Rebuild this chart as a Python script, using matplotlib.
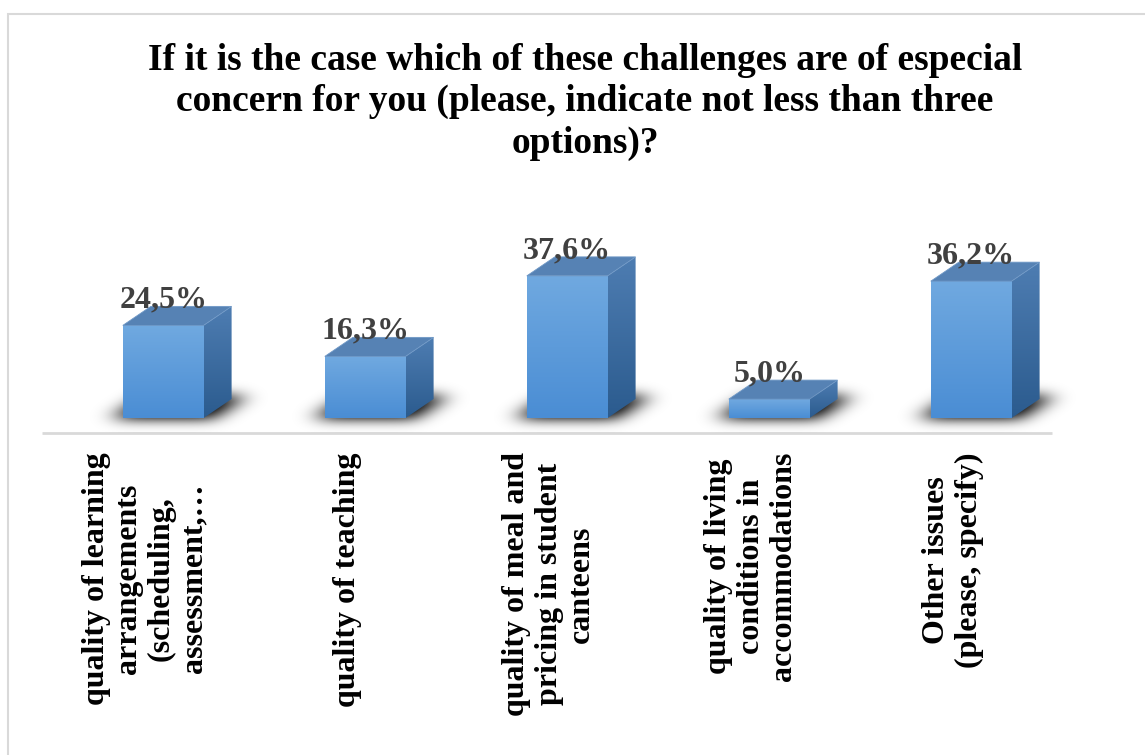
import matplotlib.pyplot as plt
import numpy as np
from matplotlib.patches import Polygon, Rectangle
from matplotlib.colors import LinearSegmentedColormap

# data
categorias = ["quality of learning\narrangements\n(scheduling,\nassessment,…",
              "quality of teaching",
              "quality of meal and\npricing in student\ncanteens",
              "quality of living\nconditions in\naccommodations",
              "Other issues\n(please, specify)"]
valores = [24.5, 16.3, 37.6, 5.0, 36.2]
etiquetas = ["24,5%", "16,3%", "37,6%", "5,0%", "36,2%"]
titulo = ("If it is the case which of these challenges are of especial\n"
          "concern for you (please, indicate not less than three\n"
          "options)?")

W, H = 1145, 755
px_x = 202.0      # pixeles por categoria
px_y = 3.78       # pixeles por %
ancho = 0.40
dx = 28 / px_x    # profundidad 3D
dy = 19 / px_y
ylim = [-5, 45]
xlim = [-0.6, 4.6]

plt.rcParams['font.family'] = ['Liberation Serif', 'DejaVu Serif']
plt.rcParams['font.weight'] = 'bold'

fig = plt.figure(figsize=(W / 100, H / 100), dpi=100)
left = 42 / W
ancho_ax = (xlim[1] - xlim[0]) * px_x / W
alto_ax = (ylim[1] - ylim[0]) * px_y / H
abajo = (H - 418 - (0 - ylim[0]) * px_y) / H
ax = fig.add_axes([left, abajo, ancho_ax, alto_ax])
ax.axis('off')


def degradado(patch, c_arriba, c_abajo, ext, z):
    cmap = LinearSegmentedColormap.from_list('g', [c_abajo, c_arriba])
    g = np.linspace(0, 1, 256).reshape(-1, 1)
    im = ax.imshow(g, cmap=cmap, extent=ext, origin='lower', aspect='auto',
                   zorder=z, interpolation='bilinear')
    im.set_clip_path(patch)


def suavizar(a, sigma, eje):
    n = int(3 * sigma)
    k = np.exp(-0.5 * (np.arange(-n, n + 1) / sigma) ** 2)
    k /= k.sum()
    return np.apply_along_axis(lambda r: np.convolve(r, k, mode='same'), eje, a)


x = np.arange(len(valores))
barras = ax.bar(x, valores, ancho, color='none', edgecolor='none', zorder=3)

# sombra difusa bajo las barras (malla de ~1 px)
nx = int((xlim[1] - xlim[0]) * px_x)
ny = int(24 * px_y)
gx = np.linspace(xlim[0], xlim[1], nx)
gy = np.linspace(-4, 20, ny)
GX, GY = np.meshgrid(gx, gy)
mascara = np.zeros_like(GX)
for b in barras:
    x0 = b.get_x()
    x1 = x0 + ancho
    t = np.clip(GY / dy, 0, 1.3)
    dentro = ((GY > -0.3) & (GY < dy + 0.8) &
              (GX > x0 - 0.05 + t * dx) & (GX < x1 + 0.05 + t * dx))
    mascara[dentro] = 1.0
mascara = suavizar(mascara, 11, 1)
mascara = suavizar(mascara, 6, 0)
rgba = np.zeros(mascara.shape + (4,))
rgba[..., 3] = np.clip(mascara * 1.1, 0, 0.9)
ax.imshow(rgba, extent=[xlim[0], xlim[1], -4, 20], origin='lower', aspect='auto',
          zorder=1, interpolation='bilinear')

for i, (b, v) in enumerate(zip(barras, valores)):
    x0 = b.get_x()
    x1 = x0 + ancho
    # cara frontal
    degradado(b, '#70a9e0', '#4a8dd4', [x0, x1, 0, v], 4)
    # cara lateral
    lado = Polygon([(x1, 0), (x1 + dx, dy), (x1 + dx, v + dy), (x1, v)], closed=True,
                   facecolor='none', edgecolor='none', zorder=3)
    ax.add_patch(lado)
    degradado(lado, '#4e7db2', '#2b5b8e', [x1, x1 + dx, 0, v + dy], 4)
    # cara superior
    tapa = Polygon([(x0, v), (x1, v), (x1 + dx, v + dy), (x0 + dx, v + dy)], closed=True,
                   facecolor='#5682b4', edgecolor='#6f98c6', lw=0.6, zorder=5)
    ax.add_patch(tapa)
    ax.text(i, v + dy - 0.3, etiquetas[i], ha='center', va='baseline', fontsize=23,
            color='#404040', fontweight='bold', zorder=6, clip_on=False)
    ax.text(i - 0.09, -9, categorias[i], rotation=90, ha='center', va='top',
            multialignment='center', fontsize=23, fontweight='bold', color='black',
            linespacing=1.15, clip_on=False)

ax.hlines(-4, xlim[0], len(valores) - 0.6, color='#d9d9d9', lw=2, zorder=0)
ax.set_xlim(xlim)
ax.set_ylim(ylim)

fig.text(585 / W, 1 - 43 / H, titulo, ha='center', va='top', fontsize=27,
         fontweight='bold', linespacing=1.23)

fig.patches.append(Rectangle((7.5 / W, -0.1), 1.2, 1 - 13.5 / H + 0.1,
                             transform=fig.transFigure, fill=False,
                             edgecolor='#d9d9d9', lw=1.5))

fig.savefig('out.png', dpi=100)
